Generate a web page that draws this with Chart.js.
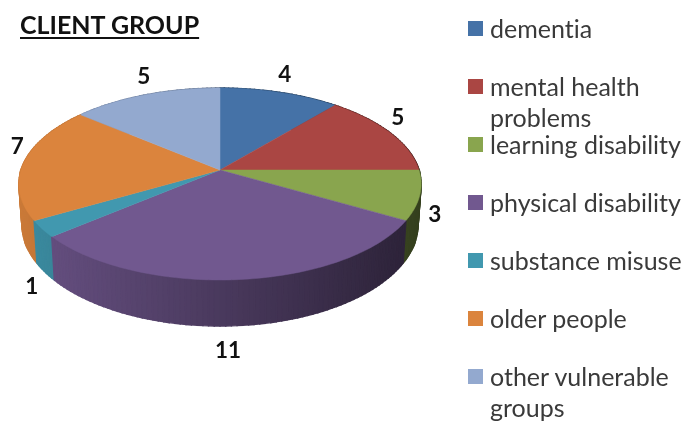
<!DOCTYPE html>
<html>
<head>
<meta charset="utf-8">
<script src="https://cdn.jsdelivr.net/npm/chart.js@4"></script>
<style>
    body { margin: 0; background: #fff; }
    #wrap { position: relative; width: 685px; height: 421px; overflow: hidden; font-family: Lato, sans-serif; font-variant-ligatures: none; filter: blur(0.4px); }
    #title { position: absolute; left: 20px; top: 9px; font-size: 25px; line-height: 30px; font-weight: bold; color: #111;
             text-decoration: underline; text-decoration-thickness: 2px; text-underline-offset: 3px; }
    .key { position: absolute; left: 468px; width: 15px; height: 15px; }
    .name { position: absolute; left: 490px; width: 195px; font-size: 25px; line-height: 31px; color: #3a3a3a; }
    canvas { position: absolute; left: 0; top: 0; }
</style>
</head>
<body>
<div id="wrap">
    <canvas id="pieChart" width="685" height="421"></canvas>
    <div id="title">CLIENT GROUP</div>
</div>
<script>
const categories = ['dementia', 'mental health problems', 'learning disability', 'physical disability', 'substance misuse', 'older people', 'other vulnerable groups'];
const clients = [4, 5, 3, 11, 1, 7, 5];
const colors = ['#4572a7', '#aa4643', '#89a54e', '#71588f', '#4198af', '#db843d', '#93a9cf'];
// nudges of the value labels away from the rim
const labelNudge = [[5, -18], [8, -15], [18, -21], [-12, 25], [-13, 15], [-7, -15], [-2, -18]];

// 3D look of the pie: perspective tilt and height of the rim
const tilt = 0.472, persp = 0.146, rimHeight = 39.3, rimSqueeze = 0.985;

function project(arc, angle) {
    const w = 1 - persp * Math.sin(angle);
    return {
        x: arc.x + arc.outerRadius * Math.cos(angle) / w,
        y: arc.y + arc.outerRadius * tilt * Math.sin(angle) / w,
        w: w
    };
}

function projectBottom(arc, angle) {
    const p = project(arc, angle);
    return { x: arc.x + (p.x - arc.x) * rimSqueeze, y: p.y + rimHeight / p.w };
}

function shade(hex, x) {
    const f = Math.max(0.38, 0.95 - 0.00135 * x);
    const n = parseInt(hex.slice(1), 16);
    return 'rgb(' + Math.round((n >> 16) * f) + ',' + Math.round(((n >> 8) & 255) * f) + ',' + Math.round((n & 255) * f) + ')';
}

const pie3d = {
    id: 'pie3d',
    beforeDatasetsDraw(chart) {
        const ctx = chart.ctx;
        const arcs = chart.getDatasetMeta(0).data;

        // rim first, back to front
        const strips = [];
        arcs.forEach(function(arc, i) {
            const steps = Math.ceil((arc.endAngle - arc.startAngle) / 0.025);
            for (let s = 0; s < steps; s++) {
                const a0 = arc.startAngle + (arc.endAngle - arc.startAngle) * s / steps;
                const a1 = arc.startAngle + (arc.endAngle - arc.startAngle) * (s + 1) / steps;
                strips.push({ arc: arc, i: i, a0: a0, a1: a1 });
            }
        });
        strips.sort(function(p, q) { return Math.sin((p.a0 + p.a1) / 2) - Math.sin((q.a0 + q.a1) / 2); });
        strips.forEach(function(st) {
            const t0 = project(st.arc, st.a0), t1 = project(st.arc, st.a1);
            const b0 = projectBottom(st.arc, st.a0), b1 = projectBottom(st.arc, st.a1);
            const c = shade(colors[st.i], (t0.x + t1.x) / 2);
            ctx.beginPath();
            ctx.moveTo(t0.x, t0.y);
            ctx.lineTo(t1.x, t1.y);
            ctx.lineTo(b1.x, b1.y);
            ctx.lineTo(b0.x, b0.y);
            ctx.closePath();
            ctx.fillStyle = c;
            ctx.strokeStyle = c;
            ctx.lineWidth = 1.4;
            ctx.fill();
            ctx.stroke();
        });

        // top face
        arcs.forEach(function(arc, i) {
            ctx.beginPath();
            ctx.moveTo(arc.x, arc.y);
            const steps = Math.ceil((arc.endAngle - arc.startAngle) / 0.02);
            for (let s = 0; s <= steps; s++) {
                const p = project(arc, arc.startAngle + (arc.endAngle - arc.startAngle) * s / steps);
                ctx.lineTo(p.x, p.y);
            }
            ctx.closePath();
            ctx.fillStyle = colors[i];
            ctx.strokeStyle = colors[i];
            ctx.lineWidth = 0.5;
            ctx.fill();
            ctx.stroke();
        });

        // value labels
        ctx.font = 'bold 22.5px Lato, sans-serif';
        ctx.fillStyle = '#111';
        ctx.textAlign = 'center';
        ctx.textBaseline = 'middle';
        arcs.forEach(function(arc, i) {
            const mid = (arc.startAngle + arc.endAngle) / 2;
            const p = Math.sin(mid) > 0 ? projectBottom(arc, mid) : project(arc, mid);
            ctx.fillText(String(clients[i]), p.x + labelNudge[i][0], p.y + labelNudge[i][1]);
        });
        return false;
    }
};

new Chart(document.getElementById('pieChart'), {
    type: 'pie',
    data: {
        labels: categories,
        datasets: [{ data: clients, backgroundColor: colors, borderWidth: 0 }]
    },
    options: {
        responsive: false,
        animation: false,
        radius: 199,
        layout: { padding: { left: 20, right: 265, top: 0, bottom: 81 } },
        plugins: { legend: { display: false }, tooltip: { enabled: false } }
    },
    plugins: [pie3d]
});

// legend on the right
const wrap = document.getElementById('wrap');
categories.forEach(function(name, i) {
    const mid = 28 + i * 58.1;
    const key = document.createElement('div');
    key.className = 'key';
    key.style.top = (mid - 7.5) + 'px';
    key.style.background = colors[i];
    wrap.appendChild(key);
    const label = document.createElement('div');
    label.className = 'name';
    label.style.top = (mid - 15.5) + 'px';
    label.textContent = name;
    wrap.appendChild(label);
});
</script>
</body>
</html>
